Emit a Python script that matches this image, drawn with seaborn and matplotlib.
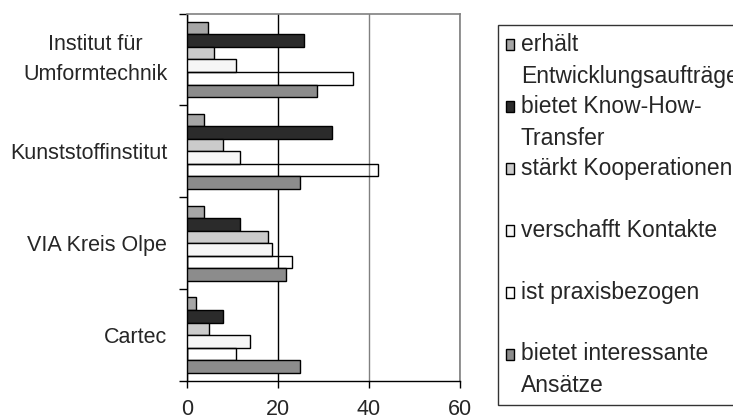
import pandas as pd
import matplotlib.pyplot as plt
import matplotlib.patches as mpatches
from matplotlib.legend_handler import HandlerPatch
import seaborn as sns

# Daten
einrichtungen = ["Institut für\nUmformtechnik", "Kunststoffinstitut", "VIA Kreis Olpe", "Cartec"]
aussagen = ["erhält\nEntwicklungsaufträge", "bietet Know-How-\nTransfer", "stärkt Kooperationen",
            "verschafft Kontakte", "ist praxisbezogen", "bietet interessante\nAnsätze"]
erhaelt = [4.7, 3.8, 3.9, 2.0]
know_how = [25.8, 31.9, 11.8, 7.9]
kooperationen = [6.0, 7.9, 17.9, 4.8]
kontakte = [10.9, 11.8, 18.8, 13.8]
praxis = [36.6, 41.9, 23.1, 10.9]
ansaetze = [28.7, 24.8, 21.8, 24.8]
farben = ["#a6a6a6", "#2b2b2b", "#cbcbcb", "#f6f6f6", "#ffffff", "#8c8c8c"]

werte = [erhaelt, know_how, kooperationen, kontakte, praxis, ansaetze]
rows = []
for a, w in zip(aussagen, werte):
    for e, v in zip(einrichtungen, w):
        rows.append({"einrichtung": e, "aussage": a, "wert": v})
df = pd.DataFrame(rows)

sns.set_style("white")
plt.rcParams['font.family'] = ['Liberation Sans', 'DejaVu Sans']
FS = 15.5
FS_LEG = 16.5

fig = plt.figure(figsize=(7.33, 4.19), dpi=100)
ax = fig.add_axes([0.2547, 0.0907, 0.3729, 0.877])
sns.barplot(data=df, x="wert", y="einrichtung", hue="aussage", order=einrichtungen,
            hue_order=aussagen, palette=farben, orient="h", width=0.82,
            edgecolor="black", linewidth=1, ax=ax, legend=False, zorder=3)

# "ist praxisbezogen" ohne Fuellung (Gitterlinien scheinen durch)
for bar in ax.containers[4]:
    bar.set_facecolor("none")

ax.set_xlim(0, 60)
ax.set_xticks([0, 20, 40, 60])
ax.set_ylim(3.5, -0.5)
ax.set_yticks(range(len(einrichtungen)))
ax.set_yticklabels(einrichtungen)
ax.set_yticks([-0.5, 0.5, 1.5, 2.5, 3.5], minor=True)
ax.set_xlabel("")
ax.set_ylabel("")

ax.tick_params(axis="x", direction="out", length=5, width=1, color="black", pad=8,
               labelsize=FS, bottom=True)
ax.tick_params(axis="y", which="major", length=0, pad=14, labelsize=FS)
ax.tick_params(axis="y", which="minor", length=6, width=1, color="black", left=True, direction="out")
for lbl in ax.get_yticklabels():
    lbl.set_multialignment("center")
    lbl.set_linespacing(1.6)
    if "\n" in lbl.get_text():
        lbl.set_verticalalignment("center")

ax.xaxis.grid(True, color="black", linewidth=1, zorder=1)
ax.set_axisbelow(True)
ax.get_xgridlines()[2].set_color("#808080")

for s in ["left", "bottom"]:
    ax.spines[s].set_color("black")
    ax.spines[s].set_linewidth(1)
for s in ["top", "right"]:
    ax.spines[s].set_color("#808080")
    ax.spines[s].set_linewidth(1.2)

# Legende
legend_labels = [a if "\n" in a else a + "\n " for a in aussagen]
handles = [mpatches.Patch(facecolor=c, edgecolor="black", linewidth=1) for c in farben]


def kaestchen(legend, orig_handle, xdescent, ydescent, width, height, fontsize):
    return mpatches.Rectangle((-xdescent, -ydescent + 0.72 * fontsize), width, height)


leg = fig.legend(handles, legend_labels, loc="upper left",
                 bbox_to_anchor=(498 / 733, 1 - 25 / 419), borderaxespad=0,
                 frameon=True, fancybox=False,
                 edgecolor="black", fontsize=FS_LEG, handlelength=0.35, handleheight=0.35,
                 handletextpad=0.3, borderpad=0.35, labelspacing=0.3,
                 handler_map={mpatches.Patch: HandlerPatch(patch_func=kaestchen)})
leg.get_frame().set_linewidth(1)
for t in leg.get_texts():
    t.set_linespacing(1.5)

fig.savefig("out.png", dpi=100)
